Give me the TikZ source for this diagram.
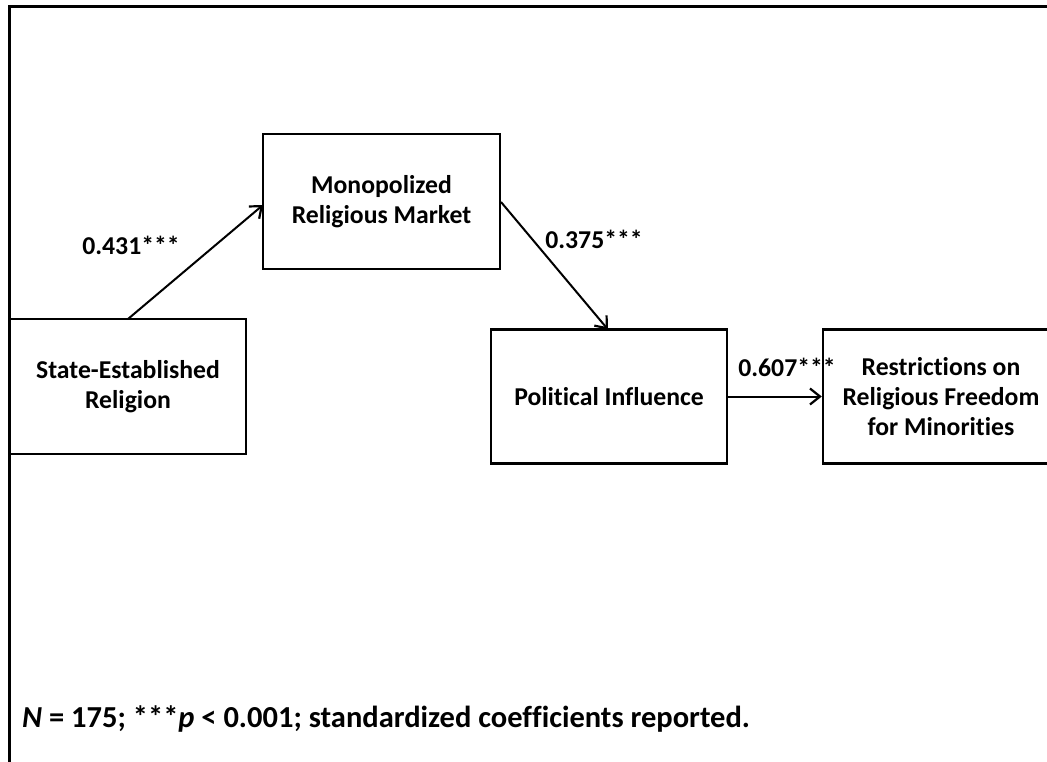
\documentclass[tikz,border=0pt]{standalone}
\usepackage{fontspec}
\setmainfont{Carlito}[RawFeature={-liga;-dlig;-calt}]
\usetikzlibrary{arrows.meta}
\begin{document}
\begin{tikzpicture}[x=1pt,y=-1pt,
  box/.style={draw=black, line width=2.5pt, fill=white, align=center,
    font=\fontsize{25.7}{30}\selectfont\bfseries, inner sep=0pt},
  path/.style={line width=2pt, -{Straight Barb[length=10pt,width=16pt,line width=2.2pt]}},
  coef/.style={font=\fontsize{25.7}{30}\selectfont\bfseries, inner sep=0pt}]
  \useasboundingbox (0,0) rectangle (1047,762);
  % outer frame (top and left edges)
  \draw[line width=3pt] (9,770) -- (9,7) -- (1060,7);
  % construct boxes
  \node[box, minimum width=236pt, minimum height=135pt] (ser) at (128,386.5) {State-Established\\Religion};
  \node[box, minimum width=237pt, minimum height=135pt] (mrm) at (381.5,201.5) {Monopolized\\Religious Market};
  \node[box, minimum width=236pt, minimum height=134pt] (pi) at (609,396.5) {Political Influence};
  \node[box, minimum width=236pt, minimum height=134pt] (rrf) at (941,396.5) {Restrictions on\\Religious Freedom\\for Minorities};
  % paths
  \coordinate (s1) at (128,319);
  \coordinate (t1) at (263,205);
  \draw[path] (s1) -- (t1);
  \coordinate (s2) at (501,202);
  \coordinate (t2) at (608,329.5);
  \draw[path] (s2) -- (t2);
  \draw[path] (pi.east) -- (rrf.west);
  % path coefficients
  \node[coef] (c1) at (131,245) {0.431***};
  \node[coef] (c2) at (594,239) {0.375***};
  \node[coef] (c3) at (787,367) {0.607***};
  % note
  \node[coef, font=\fontsize{30.5}{36}\selectfont\bfseries, anchor=base west] (note) at (22,727) {\textit{N} = 175; ***\textit{p} < 0.001; standardized coefficients reported.};
\end{tikzpicture}
\end{document}
